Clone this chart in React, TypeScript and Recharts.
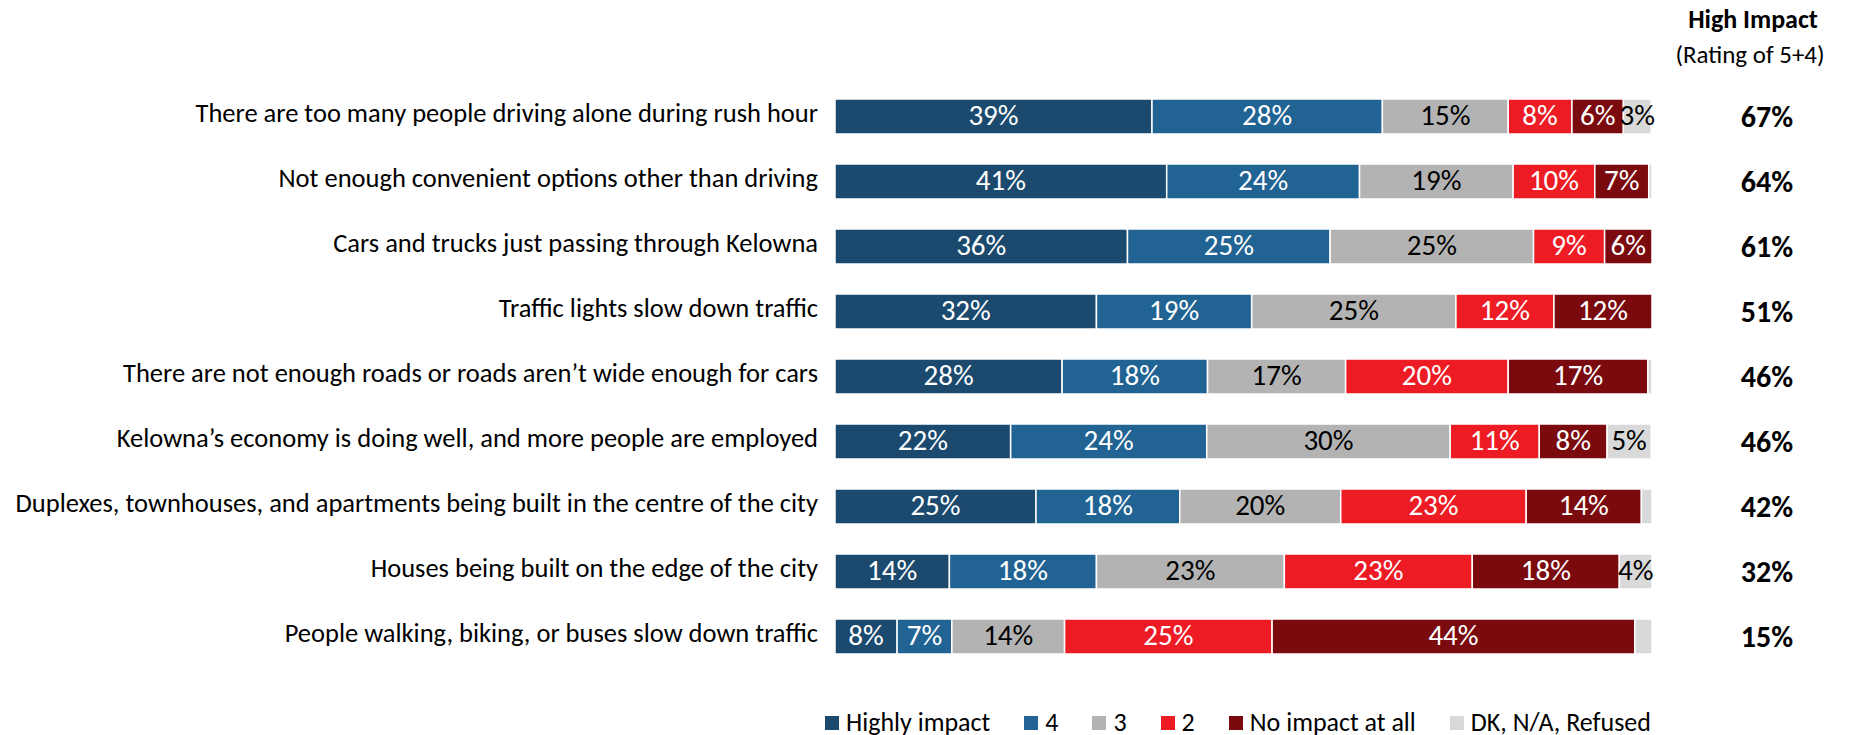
import React from 'react';
import { BarChart, Bar, XAxis, YAxis, LabelList } from 'recharts';

const FONT = 'Calibri, Carlito, Lato, "Open Sans", sans-serif';

const categories = [
  'There are too many people driving alone during rush hour',
  'Not enough convenient options other than driving',
  'Cars and trucks just passing through Kelowna',
  'Traffic lights slow down traffic',
  'There are not enough roads or roads aren\u2019t wide enough for cars',
  'Kelowna\u2019s economy is doing well, and more people are employed',
  'Duplexes, townhouses, and apartments being built in the centre of the city',
  'Houses being built on the edge of the city',
  'People walking, biking, or buses slow down traffic',
];

// shares in %
const highlyImpact = [38.8, 40.6, 35.8, 32, 27.8, 21.5, 24.6, 14, 7.6];
const rating4 = [28.2, 23.6, 24.8, 19, 17.8, 24.0, 17.6, 18, 6.7];
const rating3 = [15.4, 18.8, 24.9, 25, 16.9, 29.8, 19.7, 23, 13.8];
const rating2 = [7.8, 10.0, 8.7, 12, 19.9, 10.9, 22.7, 23, 25.4];
const noImpact = [6.3, 6.6, 5.8, 12, 17.1, 8.3, 14.1, 18, 44.4];
const dkRefused = [3.4, 0.4, 0, 0, 0.5, 5.4, 1.3, 4, 2.1];

const highImpact = [67, 64, 61, 51, 46, 46, 42, 32, 15];

const series = [
  { key: 'highly', name: 'Highly impact', color: '#1b4a6e', text: '#ffffff', values: highlyImpact },
  { key: 'r4', name: '4', color: '#216393', text: '#ffffff', values: rating4 },
  { key: 'r3', name: '3', color: '#b3b3b3', text: '#000000', values: rating3 },
  { key: 'r2', name: '2', color: '#ed1c24', text: '#ffffff', values: rating2 },
  { key: 'none', name: 'No impact at all', color: '#7a0a0e', text: '#ffffff', values: noImpact },
  { key: 'dk', name: 'DK, N/A, Refused', color: '#d9d9d9', text: '#000000', values: dkRefused },
];

const data = categories.map((name, i) => {
  const row: Record<string, any> = { name };
  series.forEach((s) => {
    row[s.key] = s.values[i];
  });
  return row;
});

const CategoryTick = (props: any) => {
  const { x, y, payload } = props;
  return (
    <text x={x} y={y} dy={-4} textAnchor="end" dominantBaseline="central" fontSize={26.5} fontFamily={FONT} fill="#000">
      {payload.value}
    </text>
  );
};

const HighImpactTick = (props: any) => {
  const { x, y, payload } = props;
  const idx = categories.indexOf(payload.value);
  return (
    <text x={x + 115} y={y} textAnchor="middle" dominantBaseline="central" fontSize={30} fontWeight="bold" fontFamily={FONT} fill="#000">
      {highImpact[idx]}%
    </text>
  );
};

const makeLabel = (color: string) => (props: any) => {
  const { x, y, width, height, value } = props;
  if (value == null || value < 2.5) return null;
  return (
    <text
      x={x + width / 2}
      y={y + height / 2}
      dy={-1.5}
      textAnchor="middle"
      dominantBaseline="central"
      fontSize={29}
      fontFamily={FONT}
      fill={color}
    >
      {Math.round(value)}%
    </text>
  );
};

export default function App() {
  return (
    <div style={{ position: 'absolute', left: 0, top: 0, width: 1853, height: 735, background: '#fff', fontFamily: FONT }}>
      <BarChart
        width={1853}
        height={735}
        data={data}
        layout="vertical"
        margin={{ top: 84, right: 0, bottom: 66, left: 0 }}
        barSize={35}
      >
        <XAxis type="number" domain={[0, 100]} hide />
        <YAxis
          yAxisId="left"
          type="category"
          dataKey="name"
          width={835}
          axisLine={false}
          tickLine={false}
          tickSize={0}
          tickMargin={17}
          interval={0}
          tick={<CategoryTick />}
        />
        <YAxis
          yAxisId="right"
          orientation="right"
          type="category"
          dataKey="name"
          width={201}
          axisLine={false}
          tickLine={false}
          tickSize={0}
          tickMargin={0}
          interval={0}
          tick={<HighImpactTick />}
        />
        {series.map((s) => (
          <Bar
            key={s.key}
            yAxisId="left"
            dataKey={s.key}
            name={s.name}
            stackId="a"
            fill={s.color}
            stroke="#ffffff"
            strokeWidth={1.5}
            isAnimationActive={false}
          >
            <LabelList dataKey={s.key} content={makeLabel(s.text)} />
          </Bar>
        ))}
      </BarChart>

      <div style={{ position: 'absolute', left: 1653, width: 200, top: 1, textAlign: 'center', color: '#000' }}>
        <div style={{ fontWeight: 'bold', fontSize: 26, lineHeight: '36px' }}>High Impact</div>
        <div style={{ fontSize: 25, lineHeight: '36px', marginLeft: -6 }}>(Rating of 5+4)</div>
      </div>

      <div style={{ position: 'absolute', left: 825, top: 707, display: 'flex', alignItems: 'center', gap: 34, fontSize: 26, lineHeight: '31px', color: '#000' }}>
        {series.map((s) => (
          <div key={s.key} style={{ display: 'flex', alignItems: 'center', gap: 7 }}>
            <span style={{ display: 'inline-block', width: 14, height: 14, background: s.color }} />
            <span>{s.name}</span>
          </div>
        ))}
      </div>
    </div>
  );
}
